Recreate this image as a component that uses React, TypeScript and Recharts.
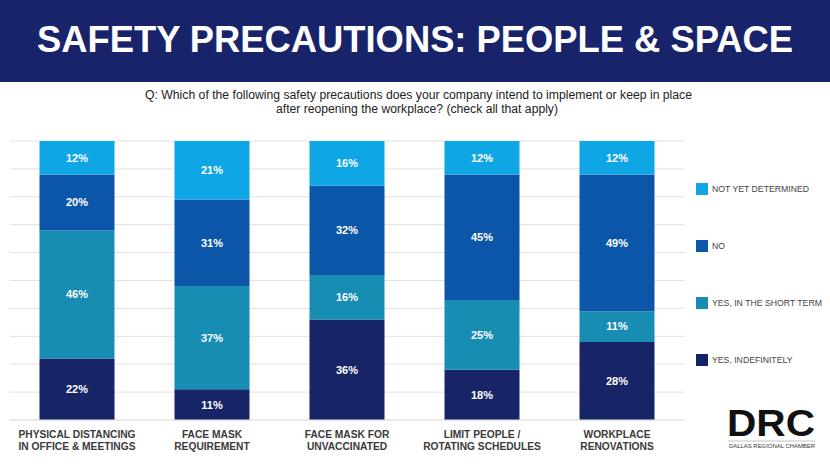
import { BarChart, Bar, XAxis, YAxis, CartesianGrid, LabelList } from 'recharts'

const categories = [
  'PHYSICAL DISTANCING\nIN OFFICE & MEETINGS',
  'FACE MASK\nREQUIREMENT',
  'FACE MASK FOR\nUNVACCINATED',
  'LIMIT PEOPLE /\nROTATING SCHEDULES',
  'WORKPLACE\nRENOVATIONS',
]
const yesIndefinitely = [22, 11, 36, 18, 28]
const yesShortTerm = [46, 37, 16, 25, 11]
const no = [20, 31, 32, 45, 49]
const notYetDetermined = [12, 21, 16, 12, 12]
const yTicks = [0, 10, 20, 30, 40, 50, 60, 70, 80, 90, 100]

const series = [
  { key: 'indef', name: 'YES, INDEFINITELY', color: '#172466', values: yesIndefinitely },
  { key: 'short', name: 'YES, IN THE SHORT TERM', color: '#178db4', values: yesShortTerm },
  { key: 'no', name: 'NO', color: '#0b56a8', values: no },
  { key: 'nyd', name: 'NOT YET DETERMINED', color: '#0fa6e6', values: notYetDetermined },
]

const data = categories.map((c, i) => {
  const row: Record<string, string | number> = { name: c }
  series.forEach((s) => { row[s.key] = s.values[i] })
  return row
})

const sans = "'Liberation Sans', Arial, sans-serif"

// labels in the reference are slightly condensed, so squeeze them a bit
function CategoryTick({ x, payload }: any) {
  const lines = String(payload.value).split('\n')
  return (
    <g transform={`translate(${x},420) scale(0.93,1)`}>
      <text x={0} y={0} textAnchor="middle" fill="#3a3a3a" fontFamily={sans} fontWeight="bold" fontSize={11}>
        {lines.map((l, i) => (
          <tspan key={i} x={0} dy={i === 0 ? 18 : 12.5}>{l}</tspan>
        ))}
      </text>
    </g>
  )
}

function LegendBox() {
  return (
    <div style={{ position: 'absolute', left: 696, top: 183, fontFamily: sans, fontSize: 8.7, color: '#444' }}>
      {[...series].reverse().map((s) => (
        <div key={s.key} style={{ display: 'flex', alignItems: 'center', height: 12, marginBottom: 45 }}>
          <div style={{ width: 12, height: 12, background: s.color, marginRight: 4 }} />
          <span>{s.name}</span>
        </div>
      ))}
    </div>
  )
}

export default function App() {
  return (
    <div style={{ position: 'absolute', left: 0, top: 0, width: 830, height: 464, background: '#fff', overflow: 'hidden' }}>
      <div style={{ position: 'absolute', left: 0, top: 0, width: 830, height: 82, background: '#18236a' }} />
      <svg style={{ position: 'absolute', left: 0, top: 0 }} width={830} height={130}>
        <text x={37} y={52} textLength={756} lengthAdjust="spacingAndGlyphs" fill="#fff" fontFamily={sans} fontWeight="bold" fontSize={36}>
          SAFETY PRECAUTIONS: PEOPLE &amp; SPACE
        </text>
        <text x={145} y={99} textLength={547} lengthAdjust="spacingAndGlyphs" fill="#222" fontFamily={sans} fontSize={12}>
          Q: Which of the following safety precautions does your company intend to implement or keep in place
        </text>
        <text x={276} y={113} textLength={282} lengthAdjust="spacingAndGlyphs" fill="#222" fontFamily={sans} fontSize={12}>
          after reopening the workplace? (check all that apply)
        </text>
      </svg>
      <div style={{ position: 'absolute', left: 0, top: 0 }}>
        <BarChart width={830} height={464} data={data} margin={{ top: 141, right: 145.5, bottom: 0, left: 9.5 }}>
          <CartesianGrid vertical={false} stroke="#e2e2e2" />
          <XAxis dataKey="name" height={44} tickLine={false} axisLine={{ stroke: '#e2e2e2' }} interval={0} tick={<CategoryTick />} />
          <YAxis hide width={0} domain={[0, 100]} ticks={yTicks} />
          {series.map((s) => (
            <Bar key={s.key} dataKey={s.key} name={s.name} stackId="a" fill={s.color} barSize={75} isAnimationActive={false}>
              <LabelList
                dataKey={s.key}
                position="center"
                formatter={(v: any) => `${v}%`}
                fill="#fff"
                fontFamily={sans}
                fontWeight="bold"
                fontSize={11}
              />
            </Bar>
          ))}
        </BarChart>
      </div>
      <LegendBox />
      <svg style={{ position: 'absolute', left: 0, top: 0 }} width={830} height={464}>
        <text x={727} y={436} textLength={88} lengthAdjust="spacingAndGlyphs" fill="#111" fontFamily={sans} fontWeight="bold" fontSize={36}>
          DRC
        </text>
        <line x1={728} x2={815} y1={441} y2={441} stroke="#999" strokeWidth={0.6} />
        <text x={729} y={448} textLength={86} lengthAdjust="spacingAndGlyphs" fill="#333" fontFamily={sans} fontSize={5}>
          DALLAS REGIONAL CHAMBER
        </text>
      </svg>
    </div>
  )
}
